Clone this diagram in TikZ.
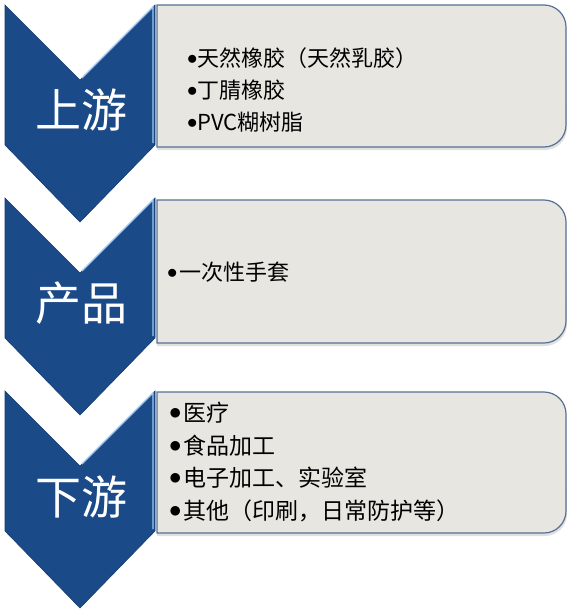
\documentclass[tikz,border=0pt]{standalone}
\usepackage{fontspec}
\setmainfont{Noto Sans CJK SC}
\usepackage{tikz}
\definecolor{chevblue}{RGB}{27,74,137}
\definecolor{chevlight}{RGB}{160,200,240}
\definecolor{boxfill}{RGB}{232,230,224}
\definecolor{boxline}{RGB}{86,112,150}
\tikzstyle{chevron} = [fill=chevblue, draw=chevblue!80!black, line width=0.6pt]
\tikzstyle{bevel} = [draw=chevlight, line width=1.4pt]
\tikzstyle{infobox} = [fill=boxfill, draw=boxline, line width=1.2pt]
\tikzstyle{shade} = [fill=black!12, draw=none]
\tikzstyle{stage} = [text=white, inner sep=0pt, font=\fontsize{46}{50}\selectfont]
\tikzstyle{items} = [anchor=west, align=left, inner sep=0pt, text=black]
\newcommand{\itemdot}[1]{\raisebox{2pt}{$\bullet$}\hspace{#1}}

\begin{document}
\begin{tikzpicture}[x=1pt, y=1pt]
\useasboundingbox (0,0) rectangle (575,-616);

% boxes
\fill[shade] (157,-8) -- (544,-8) arc[start angle=90,end angle=0,radius=22] -- (567,-128) arc[start angle=0,end angle=-90,radius=22] -- (157,-150) -- cycle;
\draw[infobox] (157,-5) -- (544,-5) arc[start angle=90,end angle=0,radius=22] -- (566,-125) arc[start angle=0,end angle=-90,radius=22] -- (157,-147) -- cycle;

\fill[shade] (157,-203) -- (544,-203) arc[start angle=90,end angle=0,radius=22] -- (567,-324) arc[start angle=0,end angle=-90,radius=22] -- (157,-346) -- cycle;
\draw[infobox] (157,-200) -- (544,-200) arc[start angle=90,end angle=0,radius=22] -- (566,-321) arc[start angle=0,end angle=-90,radius=22] -- (157,-343) -- cycle;

\fill[shade] (157,-395) -- (544,-395) arc[start angle=90,end angle=0,radius=22] -- (567,-514) arc[start angle=0,end angle=-90,radius=22] -- (157,-536) -- cycle;
\draw[infobox] (157,-392) -- (544,-392) arc[start angle=90,end angle=0,radius=22] -- (566,-511) arc[start angle=0,end angle=-90,radius=22] -- (157,-533) -- cycle;

% chevrons
\draw[chevron] (5,-5) -- (80,-80) -- (155,-5) -- (155,-145) -- (80,-222) -- (5,-145) -- cycle;
\draw[bevel] (82,-78) -- (153,-7) -- (153,-143);

\draw[chevron] (5,-198) -- (80,-273) -- (155,-198) -- (155,-338) -- (80,-415) -- (5,-338) -- cycle;
\draw[bevel] (82,-271) -- (153,-200) -- (153,-336);

\draw[chevron] (5,-391) -- (80,-466) -- (155,-391) -- (155,-531) -- (80,-608) -- (5,-531) -- cycle;
\draw[bevel] (82,-464) -- (153,-393) -- (153,-529);

% labels
\node (upstream) [stage] at (81,-110) {上游};
\node (product) [stage] at (81,-303) {产品};
\node (downstream) [stage] at (81,-497) {下游};

\node (upList) [items, font=\fontsize{22}{32}\selectfont] at (187,-90)
  {\itemdot{0pt}天然橡胶（天然乳胶）\\\itemdot{0pt}丁腈橡胶\\\itemdot{0pt}PVC糊树脂};
\node (productList) [items, font=\fontsize{22}{32}\selectfont] at (167,-272)
  {\itemdot{2pt}一次性手套};
\node (downList) [items, font=\fontsize{23}{32.5}\selectfont] at (169,-462)
  {\itemdot{2pt}医疗\\\itemdot{2pt}食品加工\\\itemdot{2pt}电子加工、实验室\\\itemdot{2pt}其他（印刷，日常防护等）};

\end{tikzpicture}
\end{document}
